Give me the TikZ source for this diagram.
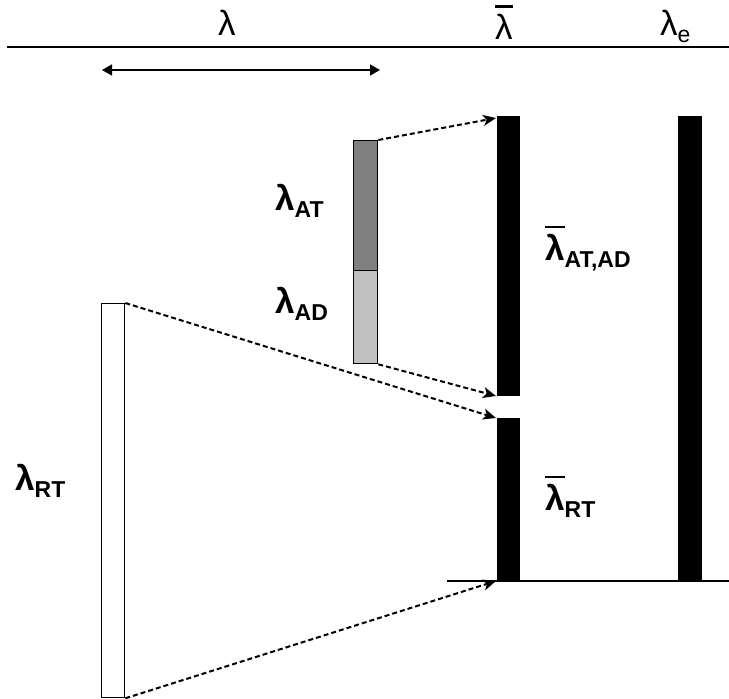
\documentclass[tikz,border=0pt]{standalone}
\usepackage{fontspec}
\setmainfont{Liberation Sans}
\usetikzlibrary{arrows.meta}
\newcommand{\lbar}{\leavevmode\vbox{\hrule height 2.2pt\kern6pt\hbox{λ}}}
\newcommand{\subt}[1]{\raisebox{-0.22em}{\fontsize{23}{23}\selectfont #1}}
\tikzset{
  lab/.style={anchor=base west, inner sep=0pt, font=\fontsize{35}{35}\selectfont},
  blab/.style={lab, font=\fontsize{35}{35}\selectfont\bfseries},
  bar/.style={fill=black, draw=none},
  dasharrow/.style={line width=2pt, dash pattern=on 5pt off 3pt, -{Stealth[length=13pt,width=11pt,inset=3.5pt]}},
}
\begin{document}
\begin{tikzpicture}[x=1pt,y=-1pt]
\useasboundingbox (0,0) rectangle (729,699);
% top rule
\draw[line width=1.2pt] (7,47) -- (729,47);
\node[lab] (l1) at (218,35) {λ};
\node[lab] (l2) at (495,39) {\lbar};
\node[lab] (l3) at (660,35) {λ\subt{e}};
% double arrow
\coordinate (da) at (102,70);
\coordinate (db) at (380,70);
\draw[line width=1.5pt, {Triangle[length=10pt,width=11pt]}-{Triangle[length=10pt,width=11pt]}] (da) -- (db);
% bars
\fill[bar] (497,116) rectangle (520,396);
\fill[bar] (497,418) rectangle (520,582);
\fill[bar] (678,116) rectangle (702,582);
\coordinate (b1t) at (496,118);
\coordinate (b1b) at (496,396);
\coordinate (b2t) at (496,418);
\coordinate (b2b) at (496,581);
% bottom rule
\draw[line width=1.2pt] (447,581) -- (729,581);
% AT/AD boxes
\node[draw, line width=1.3pt, fill={rgb,255:red,128;green,128;blue,128}, minimum width=24pt, minimum height=130pt, inner sep=0pt, anchor=north west] (at) at (353,140) {};
\node[draw, line width=1.3pt, fill={rgb,255:red,192;green,192;blue,192}, minimum width=24pt, minimum height=93pt, inner sep=0pt, anchor=north west] (ad) at (353,270) {};
\node[draw, line width=1.3pt, fill=white, minimum width=23pt, minimum height=394pt, inner sep=0pt, anchor=north west] (rt) at (101,303) {};
% arrows
\draw[dasharrow] (at.north east) -- (b1t);
\draw[dasharrow] (ad.south east) -- (b1b);
\draw[dasharrow] (rt.north east) -- (b2t);
\draw[dasharrow] (rt.south east) -- (b2b);
% labels
\node[blab] (lat) at (275,210) {λ\subt{AT}};
\node[blab] (lad) at (275,313) {λ\subt{AD}};
\node[blab] (lrt) at (15,490) {λ\subt{RT}};
\node[blab] (lbar1) at (545,260) {\lbar\subt{AT,AD}};
\node[blab] (lbar2) at (545,510) {\lbar\subt{RT}};
\end{tikzpicture}
\end{document}
